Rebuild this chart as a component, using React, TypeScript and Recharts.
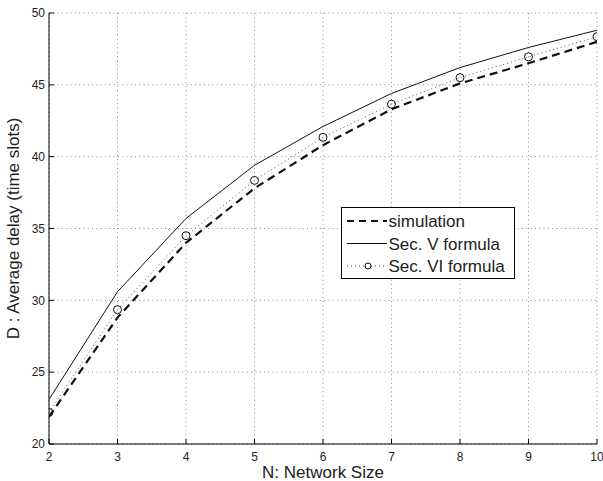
import { LineChart, Line, XAxis, YAxis, CartesianGrid, Legend } from 'recharts';

const networkSize = [2, 3, 4, 5, 6, 7, 8, 9, 10];
const simulation = [21.9, 28.8, 34.0, 37.8, 40.8, 43.3, 45.1, 46.5, 48.0];
const secV = [23.1, 30.6, 35.7, 39.4, 42.1, 44.4, 46.2, 47.6, 48.8];
const secVI = [22.2, 29.35, 34.5, 38.35, 41.35, 43.65, 45.5, 46.95, 48.35];
const xTicks = [2, 3, 4, 5, 6, 7, 8, 9, 10];
const yTicks = [20, 25, 30, 35, 40, 45, 50];

const data = networkSize.map((n, i) => ({
  n,
  simulation: simulation[i],
  secV: secV[i],
  secVI: secVI[i],
}));

const FONT = '"Liberation Sans", Arial, Helvetica, sans-serif';
const TEXT = '#222';

const CircleDot = (props: any) => {
  const { cx, cy, index } = props;
  if (cx == null || cy == null) return <g key={index} />;
  return <circle key={index} cx={cx} cy={cy} r={4} fill="none" stroke="#111" strokeWidth={1} />;
};

// legend drawn in matlab style: box with line samples
const LegendBox = () => {
  const rows = [
    { label: 'simulation', dash: '7 5', width: 2.2, color: '#111', marker: false },
    { label: 'Sec. V formula', dash: undefined, width: 1, color: '#111', marker: false },
    { label: 'Sec. VI formula', dash: '1 3', width: 1, color: '#555', marker: true },
  ];
  return (
    <svg width={174} height={72} style={{ display: 'block' }}>
      <rect x={0.5} y={0.5} width={173} height={71} fill="#fff" stroke="#000" strokeWidth={1} />
      {rows.map((r, i) => {
        const y = 14 + i * 22.5;
        return (
          <g key={r.label}>
            <line x1={6} x2={46} y1={y} y2={y} stroke={r.color} strokeWidth={r.width} strokeDasharray={r.dash} />
            {r.marker && <circle cx={27} cy={y} r={3} fill="#fff" stroke="#111" strokeWidth={1} />}
            <text x={47.5} y={y} dy={6} fontSize={17} fontFamily={FONT} fill={TEXT}>
              {r.label}
            </text>
          </g>
        );
      })}
    </svg>
  );
};

export default function App() {
  return (
    <div style={{ position: 'absolute', left: 0, top: 0, width: 603, height: 481, background: '#fff' }}>
      <LineChart width={603} height={481} data={data} margin={{ top: 13, right: 6, bottom: 0, left: 0 }}>
        <CartesianGrid stroke="#8a8a8a" strokeDasharray="1 3.3" />
        <XAxis
          dataKey="n"
          type="number"
          domain={[2, 10]}
          ticks={xTicks}
          allowDataOverflow
          height={37}
          stroke="#000"
          tickSize={-5}
          tickMargin={13}
          tick={{ fill: TEXT, fontSize: 12, fontFamily: FONT }}
          label={{
            value: 'N: Network Size',
            position: 'insideBottom',
            offset: 3,
            fill: TEXT,
            fontSize: 17,
            fontFamily: FONT,
          }}
        />
        <XAxis
          xAxisId="top"
          orientation="top"
          dataKey="n"
          type="number"
          domain={[2, 10]}
          ticks={xTicks}
          allowDataOverflow
          height={0}
          stroke="#000"
          tickSize={-5}
          tickFormatter={() => ''}
        />
        <YAxis
          type="number"
          domain={[20, 50]}
          ticks={yTicks}
          allowDataOverflow
          width={49}
          stroke="#000"
          tickSize={-5}
          tickMargin={9}
          tick={{ fill: TEXT, fontSize: 12, fontFamily: FONT }}
          label={{
            value: 'D : Average delay (time slots)',
            angle: -90,
            position: 'insideLeft',
            offset: 13,
            fill: TEXT,
            fontSize: 17,
            fontFamily: FONT,
            style: { textAnchor: 'middle' },
          }}
        />
        <YAxis
          yAxisId="right"
          orientation="right"
          type="number"
          domain={[20, 50]}
          ticks={yTicks}
          allowDataOverflow
          width={0}
          stroke="#000"
          tickSize={-5}
          tickFormatter={() => ''}
        />
        <Legend
          layout="vertical"
          align="center"
          verticalAlign="middle"
          content={() => <LegendBox />}
          wrapperStyle={{ position: 'absolute', left: 341, top: 207, width: 174, height: 72 }}
        />
        <Line
          dataKey="simulation"
          name="simulation"
          stroke="#111"
          strokeWidth={2.2}
          strokeDasharray="8 5"
          dot={false}
          isAnimationActive={false}
        />
        <Line
          dataKey="secV"
          name="Sec. V formula"
          stroke="#111"
          strokeWidth={1}
          dot={false}
          isAnimationActive={false}
        />
        <Line
          dataKey="secVI"
          name="Sec. VI formula"
          stroke="#555"
          strokeWidth={1}
          strokeDasharray="1 3"
          dot={<CircleDot />}
          isAnimationActive={false}
        />
      </LineChart>
    </div>
  );
}
